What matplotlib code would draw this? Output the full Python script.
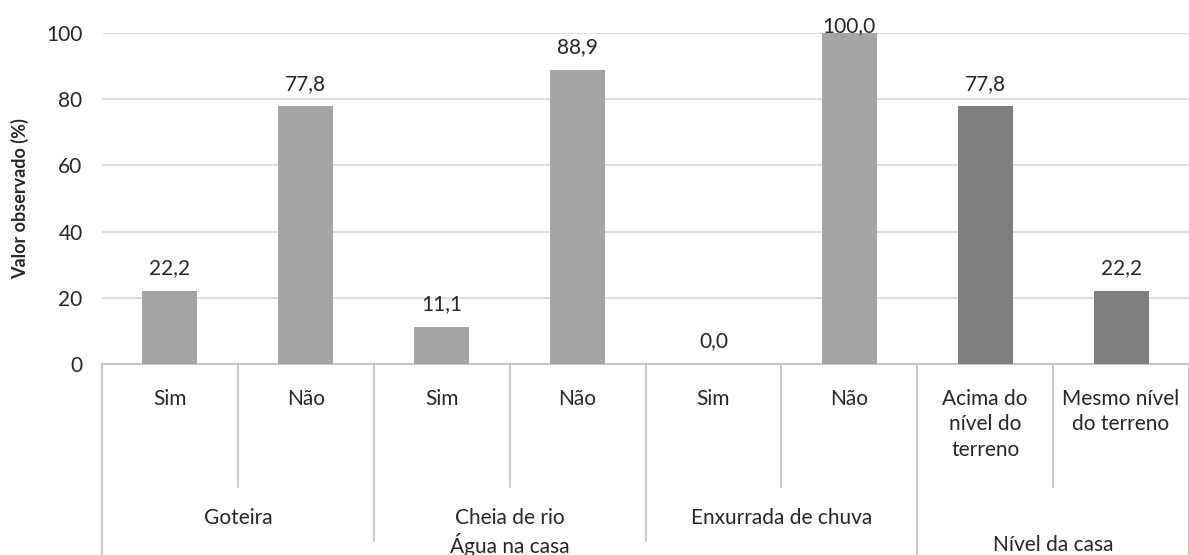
import matplotlib.pyplot as plt
import matplotlib.transforms as mtransforms

plt.rcParams['font.family'] = ['Lato', 'DejaVu Sans']

sub_labels = ["Sim", "Não", "Sim", "Não", "Sim", "Não",
              "Acima do\nnível do\nterreno", "Mesmo nível\ndo terreno"]
values = [22.2, 77.8, 11.1, 88.9, 0.0, 100.0, 77.8, 22.2]
bar_colors = ["#A5A5A5"] * 6 + ["#7F7F7F"] * 2
groups = ["Goteira", "Cheia de rio", "Enxurrada de chuva", ""]
top_groups = ["Água na casa", "Nível da casa"]
yticks = [0, 20, 40, 60, 80, 100]

W, H = 1189, 555
fig = plt.figure(figsize=(W / 100, H / 100), dpi=100)
ax_left, ax_right, ax_top, ax_bot = 102, 1189, 33, 364
ax = fig.add_axes([ax_left / W, 1 - ax_bot / H, (ax_right - ax_left) / W, (ax_bot - ax_top) / H])
ah = ax_bot - ax_top
txtc = "#262626"
fs = 15

x = list(range(len(values)))
ax.bar(x, values, width=0.405, color=bar_colors, zorder=3)
ax.set_xlim(-0.5, len(values) - 0.5)
ax.set_ylim(0, 100)
ax.set_yticks(yticks)
ax.set_yticklabels([str(t) for t in yticks], fontsize=fs, color=txtc)
ax.tick_params(axis='y', length=0, pad=14)
ax.set_xticks([])
ax.yaxis.grid(True, color="#D9D9D9", linewidth=1.2, zorder=0)
for s in ["top", "right"]:
    ax.spines[s].set_visible(False)
ax.spines["bottom"].set_color("#BFBFBF")
ax.spines["bottom"].set_linewidth(1.2)
ax.spines["left"].set_visible(False)
ax.set_ylabel("Valor observado (%)", fontsize=13, fontweight="bold", labelpad=12, color=txtc)

for xi, v in zip(x, values):
    ty = min(v + 5.1, 100.3)
    ax.text(xi, ty, f"{v:.1f}".replace(".", ","), ha="center", va="baseline",
            fontsize=fs, color=txtc, zorder=4, clip_on=False)

trans = mtransforms.blended_transform_factory(ax.transData, ax.transAxes)
lc = "#BFBFBF"
def vline(xp, ypx_end):
    ax.plot([xp, xp], [0, -(ypx_end - ax_bot) / ah], color=lc, lw=1.2,
            transform=trans, clip_on=False)

# sub-level dividers
for xp in [0.5, 2.5, 4.5, 6.5]:
    vline(xp, 487)
# group-level dividers
for xp in [1.5, 3.5]:
    vline(xp, 541)
# top-level dividers
for xp in [-0.5, 5.5, 7.5]:
    vline(xp, 560)

for xi, lab in zip(x, sub_labels):
    ax.text(xi, -(389 - ax_bot) / ah, lab, ha="center", va="top", fontsize=fs,
            transform=trans, linespacing=1.33, color=txtc)

for gi, g in enumerate(groups):
    if g:
        ax.text(2 * gi + 0.5, -(518 - ax_bot) / ah, g, ha="center", va="center",
                fontsize=fs, transform=trans, color=txtc)

ax.text(2.5, -(545 - ax_bot) / ah, top_groups[0], ha="center", va="center",
        fontsize=fs, transform=trans, color=txtc)
ax.text(6.5, -(545 - ax_bot) / ah, top_groups[1], ha="center", va="center",
        fontsize=fs, transform=trans, color=txtc)

fig.savefig("out.png", dpi=100)
